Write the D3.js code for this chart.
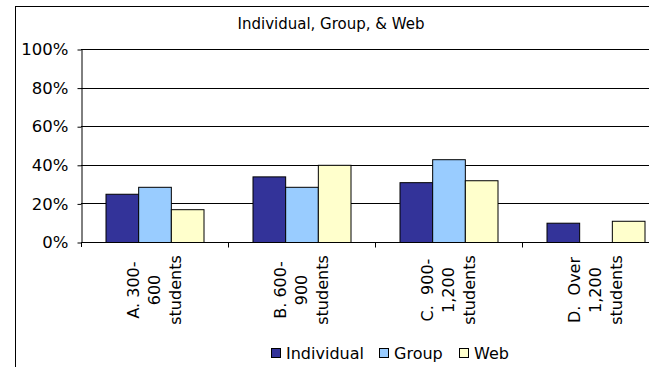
<!DOCTYPE html>
<html>
<head>
<meta charset="utf-8">
<script src="https://cdn.jsdelivr.net/npm/d3@7/dist/d3.min.js"></script>
<style>
  html, body { margin: 0; padding: 0; background: #fff; }
  svg { display: block; }
  text { font-family: "DejaVu Sans", Verdana, sans-serif; fill: #000; }
</style>
</head>
<body>
<div id="chart"></div>
<script>
// Share of responses by school size, per delivery format
const categories = ["A", "B", "C", "D"];
const categoryLines = [
  ["A. 300-", "600", "students"],
  ["B. 600-", "900", "students"],
  ["C.  900-", "1,200", "students"],
  ["D.  Over", "1,200", "students"]
];
const seriesNames = ["Individual", "Group", "Web"];
const individual = [0.25, 0.34, 0.31, 0.10];
const group = [0.286, 0.286, 0.429, 0];
const web = [0.17, 0.40, 0.32, 0.11];
const seriesColors = ["#333399", "#99CCFF", "#FFFFCC"];
const yTicks = [0, 0.2, 0.4, 0.6, 0.8, 1.0];
const titleText = "Individual, Group, & Web";

const seriesValues = [individual, group, web];

const W = 649, H = 367;
const svg = d3.select("#chart").append("svg").attr("width", W).attr("height", H);

// Outer chart frame (continues past the visible page)
svg.append("rect")
  .attr("x", 15.5).attr("y", 6.5)
  .attr("width", 720).attr("height", 420)
  .attr("fill", "#fff").attr("stroke", "#000").attr("stroke-width", 1);

const plotLeft = 81, plotRight = 669, plotTop = 49, plotBottom = 242;

const x = d3.scaleBand().domain(categories).range([plotLeft, plotRight]).padding(0);
const barW = x.bandwidth() / 4.5;
const xInner = d3.scaleBand().domain(seriesNames)
  .range([barW * 0.75, x.bandwidth() - barW * 0.75]).padding(0);
const y = d3.scaleLinear().domain([0, 1]).range([plotBottom, plotTop]);

// Horizontal gridlines
svg.append("g").selectAll("line").data(yTicks.filter(d => d > 0)).join("line")
  .attr("x1", plotLeft).attr("x2", plotRight)
  .attr("y1", d => Math.round(y(d)) + 0.5).attr("y2", d => Math.round(y(d)) + 0.5)
  .attr("stroke", "#000").attr("stroke-width", 1);

// Bars
const rows = categories.flatMap((c, i) =>
  seriesNames.map((s, j) => ({ cat: c, series: s, value: seriesValues[j][i], color: seriesColors[j] })));
svg.append("g").selectAll("rect").data(rows.filter(d => d.value > 0)).join("rect")
  .attr("x", d => x(d.cat) + xInner(d.series) + 0.5)
  .attr("y", d => y(d.value) + 0.5)
  .attr("width", xInner.bandwidth())
  .attr("height", d => plotBottom - y(d.value))
  .attr("fill", d => d.color)
  .attr("stroke", "#000").attr("stroke-width", 1);

// Y axis
const yAxis = svg.append("g")
  .attr("transform", `translate(${plotLeft + 0.5},0.5)`)
  .call(d3.axisLeft(y).tickValues(yTicks).tickFormat(d3.format(".0%")).tickSize(4).tickSizeOuter(0).tickPadding(9));
yAxis.select(".domain").attr("stroke", "#000");
yAxis.selectAll(".tick line").attr("stroke", "#000");
yAxis.selectAll(".tick text")
  .style("font-family", '"DejaVu Sans", Verdana, sans-serif')
  .style("font-size", "16.5px").attr("fill", "#000");
// axis line continues a little below the baseline
svg.append("line")
  .attr("x1", plotLeft + 0.5).attr("x2", plotLeft + 0.5)
  .attr("y1", plotBottom).attr("y2", plotBottom + 5)
  .attr("stroke", "#000");

// X axis with category boundary ticks
const xAxis = svg.append("g")
  .attr("transform", `translate(0,${plotBottom + 0.5})`);
xAxis.append("line")
  .attr("x1", plotLeft).attr("x2", plotRight)
  .attr("stroke", "#000");
xAxis.selectAll("line.tk").data(categories.slice(1)).join("line")
  .attr("class", "tk")
  .attr("x1", d => Math.round(x(d)) + 0.5).attr("x2", d => Math.round(x(d)) + 0.5)
  .attr("y1", 0).attr("y2", 5)
  .attr("stroke", "#000");

// Rotated, wrapped category labels
const lineGap = 21;
categories.forEach((c, i) => {
  const cx = x(c) + x.bandwidth() / 2;
  const lines = categoryLines[i];
  lines.forEach((t, k) => {
    const lx = cx + (k - (lines.length - 1) / 2) * lineGap;
    svg.append("text")
      .attr("transform", `translate(${lx},290) rotate(-90)`)
      .attr("text-anchor", "middle")
      .attr("dominant-baseline", "central")
      .style("font-size", "16px")
      .style("white-space", "pre")
      .text(t);
  });
});

// Title
svg.append("text")
  .attr("x", 331).attr("y", 29)
  .attr("text-anchor", "middle")
  .style("font-size", "15px")
  .text(titleText);

// Legend
const legendX = [271, 379, 459];
const legend = svg.append("g");
seriesNames.forEach((s, j) => {
  legend.append("rect")
    .attr("x", legendX[j] + 0.5).attr("y", 348.5)
    .attr("width", 9).attr("height", 9)
    .attr("fill", seriesColors[j]).attr("stroke", "#000");
  legend.append("text")
    .attr("x", legendX[j] + 15).attr("y", 358.5)
    .style("font-size", "16px")
    .text(s);
});
</script>
</body>
</html>
